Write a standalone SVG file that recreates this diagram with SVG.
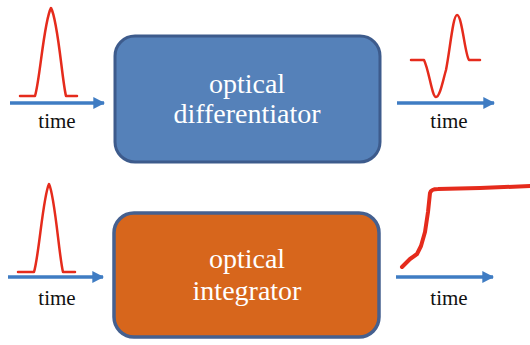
<svg xmlns="http://www.w3.org/2000/svg" width="530" height="345" viewBox="0 0 530 345">
  <defs>
    <style>
      text { font-family: "Liberation Serif", "DejaVu Serif", serif; }
      .box-text { font-size: 28px; fill: #ffffff; text-anchor: middle; }
      .axis-label { font-size: 21px; fill: #111111; text-anchor: middle; }
      .axis { stroke: #3f7cc3; stroke-width: 3.5; fill: none; }
      .pulse { stroke: #e52b1c; stroke-width: 2.5; fill: none; stroke-linejoin: round; stroke-linecap: round; }
      .ramp { stroke: #e52b1c; stroke-width: 4; fill: none; stroke-linejoin: round; stroke-linecap: round; }
    </style>
    <marker id="head" viewBox="0 0 10 10" refX="9" refY="5" markerWidth="3.4" markerHeight="3.4" orient="auto" markerUnits="strokeWidth">
      <path d="M0,0 L10,5 L0,10 Z" fill="#3f7cc3"/>
    </marker>
  </defs>

  <rect width="530" height="345" fill="#ffffff"/>

  <!-- top row: differentiator -->
  <g id="differentiator">
    <rect x="115" y="36" width="265" height="126" rx="20" ry="20" fill="#5581b9" stroke="#3d5b8c" stroke-width="3"/>
    <text class="box-text" x="247" y="93">optical</text>
    <text class="box-text" x="247" y="123">differentiator</text>
  </g>

  <!-- bottom row: integrator -->
  <g id="integrator">
    <rect x="114" y="213" width="265" height="124" rx="20" ry="20" fill="#d7661c" stroke="#45608f" stroke-width="3.5"/>
    <text class="box-text" x="247" y="268">optical</text>
    <text class="box-text" x="247" y="300">integrator</text>
  </g>

  <g id="connectors">
    <line class="axis" x1="10" y1="103" x2="104" y2="103" marker-end="url(#head)"/>
    <line class="axis" x1="397" y1="103" x2="494" y2="103" marker-end="url(#head)"/>
    <line class="axis" x1="8" y1="277" x2="103" y2="277" marker-end="url(#head)"/>
    <line class="axis" x1="396" y1="277" x2="493" y2="277" marker-end="url(#head)"/>
  </g>

  <!-- waveforms -->
  <g id="input-pulse-top">
    <path class="pulse" d="M20,96 L35,96 C40,80 44,20 51,8 C58,20 62,80 66,96 L77,96"/>
  </g>
  <g id="output-derivative">
    <path class="pulse" d="M411,60 L424,60 C429,70 432,97 436,97 C440,97 443,80 446,70 C450,50 453,15 457,15 C462,15 465,55 469,60 L480,60"/>
  </g>
  <g id="input-pulse-bottom">
    <path class="pulse" d="M18,272 L34,272 C39,256 43,196 49,184 C55,196 59,256 63,272 L75,272"/>
  </g>
  <g id="output-integral">
    <path class="ramp" d="M402,267 L410,259 L417,254 L421,246 L425,232 L428,212 L430,193 Q431,189 438,189 L480,188 L530,186"/>
  </g>

  <text class="axis-label" x="57" y="128">time</text>
  <text class="axis-label" x="449" y="128">time</text>
  <text class="axis-label" x="57" y="305">time</text>
  <text class="axis-label" x="449" y="305">time</text>
</svg>
